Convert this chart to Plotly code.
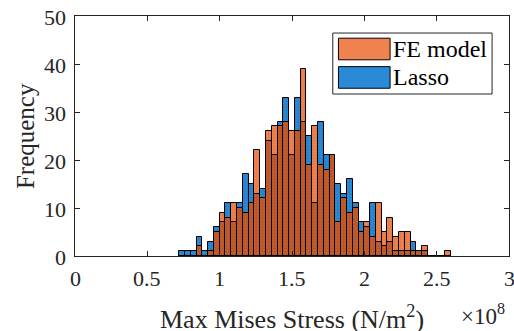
import plotly.graph_objects as go

# Bin centres (x 1e8 N/m^2), bin width 0.04e8
stress_bins = [0.74, 0.78, 0.82, 0.86, 0.90, 0.94, 0.98, 1.02, 1.06, 1.10,
               1.14, 1.18, 1.22, 1.26, 1.30, 1.34, 1.38, 1.42, 1.46, 1.50,
               1.54, 1.58, 1.62, 1.66, 1.70, 1.74, 1.78, 1.82, 1.86, 1.90,
               1.94, 1.98, 2.02, 2.06, 2.10, 2.14, 2.18, 2.22, 2.26, 2.30,
               2.34, 2.38, 2.42, 2.46, 2.50, 2.54, 2.58]
fe_counts = [0, 0, 0, 2, 0, 1, 5, 9, 8, 11,
             10, 9, 11, 22, 12, 26, 27, 27, 28, 26,
             26, 39, 19, 27, 19, 18, 21, 7, 12, 9,
             10, 5, 7, 4, 11, 5, 8, 4, 5, 5,
             1, 1, 2, 0, 0, 0, 1]
lasso_counts = [1, 1, 1, 4, 1, 3, 6, 7, 11, 7,
                11, 17, 15, 13, 14, 24, 21, 28, 33, 21,
                33, 28, 25, 11, 28, 21, 21, 15, 13, 16,
                11, 7, 6, 11, 3, 2, 3, 1, 1, 1,
                3, 1, 1, 0, 0, 0, 0]
series_names = ["FE model", "Lasso"]
x_ticks = [0, 0.5, 1, 1.5, 2, 2.5, 3]
x_tick_labels = ["0", "0.5", "1", "1.5", "2", "2.5", "3"]
y_ticks = [0, 10, 20, 30, 40, 50]
y_tick_labels = ["0", "10", "20", "30", "40", "50"]

BIN_W = 0.04
BLUE = "#2a8ad8"
BLUE_FG = "#17598f"
ORANGE = "#f0824f"
ORANGE_FG = "#c9602f"
DARK = "#c45a2c"
DARK_FG = "#8f4322"
TXT = "#262626"
FONT = "Liberation Serif"

overlap = [min(a, b) for a, b in zip(fe_counts, lasso_counts)]

def bar(y, color, fg, name):
    return go.Bar(
        x=stress_bins, y=y, width=BIN_W, name=name, showlegend=False,
        marker=dict(color=color, line=dict(color="black", width=1),
                    pattern=dict(shape="+", fgcolor=fg, size=3, solidity=0.25,
                                 fgopacity=0.45)),
        hoverinfo="x+y",
    )

fig = go.Figure()
fig.add_trace(bar(lasso_counts, BLUE, BLUE_FG, series_names[1]))
fig.add_trace(bar(fe_counts, ORANGE, ORANGE_FG, series_names[0]))
fig.add_trace(bar(overlap, DARK, DARK_FG, "overlap"))

fig.update_layout(
    width=514, height=331,
    margin=dict(l=75, r=5, t=16, b=75, pad=0),
    paper_bgcolor="white", plot_bgcolor="white",
    barmode="overlay", bargap=0,
    font=dict(family=FONT, size=22, color=TXT),
    showlegend=False,
    xaxis=dict(range=[0, 3], tickvals=x_ticks, showticklabels=False,
               ticks="inside", ticklen=5, tickcolor=TXT, showgrid=False,
               zeroline=False, showline=True, linecolor=TXT, linewidth=1,
               mirror="ticks"),
    yaxis=dict(range=[0, 50], tickvals=y_ticks, showticklabels=False,
               ticks="inside", ticklen=5, tickcolor=TXT, showgrid=False,
               zeroline=False, showline=True, linecolor=TXT, linewidth=1,
               mirror="ticks"),
)

# tick labels (serif) placed on the axes' own scales
for v, t in zip(x_ticks, x_tick_labels):
    fig.add_annotation(text=t, xref="x", yref="paper", x=v, y=-0.092,
                       xanchor="center", yanchor="middle", showarrow=False,
                       font=dict(family=FONT, size=22, color=TXT))
for v, t in zip(y_ticks, y_tick_labels):
    fig.add_annotation(text=t, xref="paper", yref="y", x=-0.016, y=v, yshift=-1.5,
                       xanchor="right", yanchor="middle", showarrow=False,
                       font=dict(family=FONT, size=22, color=TXT))

# axis titles
fig.add_annotation(text="Max Mises Stress (N/m<sup>2</sup>)", xref="paper", yref="paper",
                   x=0.5, y=-0.255, xanchor="center", yanchor="middle",
                   showarrow=False, font=dict(family=FONT, size=26, color=TXT))
fig.add_annotation(text="Frequency", xref="paper", yref="paper",
                   x=-0.115, y=0.5, xanchor="center", yanchor="middle", textangle=-90,
                   showarrow=False, font=dict(family=FONT, size=25, color=TXT))
fig.add_annotation(text="×10<sup>8</sup>", xref="paper", yref="paper",
                   x=0.94, y=-0.245, xanchor="center", yanchor="middle",
                   showarrow=False, font=dict(family=FONT, size=23, color=TXT))

# custom legend (box, swatches, labels)
fig.add_shape(type="rect", xref="paper", yref="paper", x0=0.594, x1=0.961,
              y0=0.675, y1=0.929, line=dict(color=TXT, width=1), fillcolor="white")
leg_y = [0.8625, 0.744]
leg_colors = [ORANGE, BLUE]
for i in range(2):
    fig.add_shape(type="rect", xref="paper", yref="paper", x0=0.607, x1=0.726,
                  y0=leg_y[i] - 0.045, y1=leg_y[i] + 0.045,
                  line=dict(color="black", width=1), fillcolor=leg_colors[i])
    fig.add_annotation(text=series_names[i], xref="paper", yref="paper",
                       x=0.729, y=leg_y[i], xanchor="left", yanchor="middle",
                       showarrow=False, font=dict(family=FONT, size=24, color="black"))

fig.write_html("out.html")
